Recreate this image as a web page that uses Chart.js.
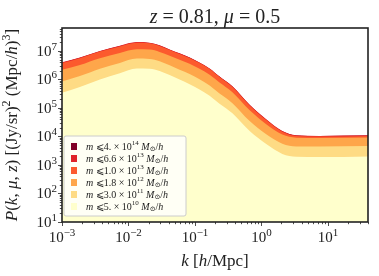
<!DOCTYPE html>
<html>
<head>
<meta charset="utf-8">
<script src="https://cdn.jsdelivr.net/npm/chart.js@4.4.1/dist/chart.umd.min.js"></script>
<style>
  html, body { margin: 0; padding: 0; background: #fff; }
</style>
</head>
<body>
<canvas id="c" width="379" height="276"></canvas>
<script>
// k in h/Mpc, P in (Jy/sr)^2 (Mpc/h)^3, one list per mass cut
const k = [0.001, 0.00186, 0.00372, 0.00741, 0.0133, 0.0208, 0.0294, 0.0416, 0.0587, 0.083,
  0.117, 0.166, 0.234, 0.366, 0.659, 1.18, 2.06, 3.33, 7.38, 40];
const p4e14 = [3.9e6, 5.75e6, 9.8e6, 1.49e7, 2.0e7, 1.91e7, 1.55e7, 1.11e7, 8.1e6, 5.85e6,
  3.9e6, 2.4e6, 1.26e6, 5.65e5, 1.3e5, 3.9e4, 1.52e4, 1.08e4, 1.03e4, 1.08e4];
const p66e13 = [3.99e6, 5.88e6, 9.98e6, 1.52e7, 2.05e7, 1.95e7, 1.59e7, 1.13e7, 8.25e6, 5.96e6,
  3.98e6, 2.45e6, 1.28e6, 5.78e5, 1.32e5, 3.99e4, 1.55e4, 1.1e4, 1.05e4, 1.1e4];
const p1e13 = [3.8e6, 5.6e6, 9.5e6, 1.45e7, 1.95e7, 1.86e7, 1.51e7, 1.08e7, 7.85e6, 5.68e6,
  3.79e6, 2.33e6, 1.22e6, 5.5e5, 1.26e5, 3.8e4, 1.48e4, 1.05e4, 1.0e4, 1.05e4];
const p18e12 = [2.19e6, 3.24e6, 5.6e6, 8.5e6, 1.15e7, 1.12e7, 9.3e6, 6.84e6, 4.95e6, 3.58e6,
  2.39e6, 1.47e6, 7.9e5, 3.6e5, 8.5e4, 2.7e4, 1.17e4, 9.1e3, 8.9e3, 9.3e3];
const p3e11 = [8.5e5, 1.32e6, 2.4e6, 3.8e6, 5.4e6, 5.25e6, 4.37e6, 3.13e6, 2.21e6, 1.56e6,
  1.02e6, 6.1e5, 3.2e5, 1.48e5, 3.55e4, 1.2e4, 5.6e3, 4.47e3, 4.47e3, 4.68e3];
const p5e10 = [3.4e5, 5.4e5, 1.0e6, 1.66e6, 2.45e6, 2.4e6, 2.0e6, 1.43e6, 9.9e5, 6.8e5,
  4.46e5, 2.68e5, 1.41e5, 6.5e4, 1.58e4, 5.4e3, 2.45e3, 1.95e3, 1.9e3, 2.0e3];

// legend order, top to bottom
const massMant = ['4.', '6.6', '1.0', '1.8', '3.0', '5.'];
const massExp = ['14', '13', '13', '12', '11', '10'];
const series = [p4e14, p66e13, p1e13, p18e12, p3e11, p5e10];
const colors = ['#800026', '#e0232a', '#fc5a2d', '#fea64a', '#fedb84', '#ffffcc'];

const xDecades = [-3, -2, -1, 0, 1];
const yDecades = [1, 2, 3, 4, 5, 6, 7];

const SERIF = '"Liberation Serif", "DejaVu Serif", serif';
const INK = '#222';

function fontFor(kind, size) {
  const small = kind === 'u' || kind === 'd';
  const s = small ? Math.round(size * 0.7) : size;
  const it = kind === 'i' ? 'italic ' : '';
  return it + s + 'px ' + SERIF;
}
function richWidth(ctx, parts, size) {
  let w = 0;
  parts.forEach(([t, kind]) => { ctx.font = fontFor(kind, size); w += ctx.measureText(t).width; });
  return w;
}
// parts: [text, kind] with kind r=roman i=italic u=superscript d=subscript
function drawRich(ctx, parts, x, y, size, align) {
  const w = richWidth(ctx, parts, size);
  let cx = align === 'center' ? x - w / 2 : align === 'right' ? x - w : x;
  ctx.textAlign = 'left';
  ctx.textBaseline = 'alphabetic';
  parts.forEach(([t, kind]) => {
    ctx.font = fontFor(kind, size);
    const dy = kind === 'u' ? -size * 0.42 : kind === 'd' ? size * 0.18 : 0;
    ctx.fillText(t, cx, y + dy);
    cx += ctx.measureText(t).width;
  });
}

const decor = {
  id: 'decor',
  afterDraw(chart) {
    const { ctx, chartArea: a, scales } = chart;
    const xs = scales.x, ys = scales.y;
    ctx.save();
    ctx.fillStyle = INK;
    ctx.strokeStyle = INK;

    // ticks, outward
    ctx.lineWidth = 0.8;
    ctx.beginPath();
    xDecades.concat([2]).forEach(d => {
      for (let m = 1; m <= 9; m++) {
        const v = m * Math.pow(10, d);
        if (v < xs.min || v > xs.max) continue;
        const px = Math.round(xs.getPixelForValue(v)) + 0.5;
        ctx.moveTo(px, a.bottom);
        ctx.lineTo(px, a.bottom + (m === 1 ? 4 : 2.2));
      }
    });
    yDecades.forEach(d => {
      for (let m = 1; m <= 9; m++) {
        const v = m * Math.pow(10, d);
        if (v < ys.min || v > ys.max) continue;
        const py = Math.round(ys.getPixelForValue(v)) + 0.5;
        ctx.moveTo(a.left, py);
        ctx.lineTo(a.left - (m === 1 ? 4 : 2.2), py);
      }
    });
    ctx.stroke();

    // frame
    ctx.lineWidth = 1.6;
    ctx.strokeRect(a.left, a.top, a.right - a.left, a.bottom - a.top);

    // tick labels
    xDecades.forEach(d => {
      const px = xs.getPixelForValue(Math.pow(10, d));
      drawRich(ctx, [['10', 'r'], [String(d).replace('-', '\u2212'), 'u']], px, a.bottom + 20, 15, 'center');
    });
    yDecades.forEach(d => {
      const py = ys.getPixelForValue(Math.pow(10, d));
      drawRich(ctx, [['10', 'r'], [String(d), 'u']], a.left - 5, py + 5, 15, 'right');
    });

    // title and axis labels
    drawRich(ctx, [['z', 'i'], [' = 0.81, ', 'r'], ['\u03bc', 'i'], [' = 0.5', 'r']],
      (a.left + a.right) / 2, 23, 20, 'center');
    drawRich(ctx, [['k', 'i'], [' [', 'r'], ['h', 'i'], ['/Mpc]', 'r']],
      (a.left + a.right) / 2, 266, 17, 'center');
    ctx.save();
    ctx.translate(17, (a.top + a.bottom) / 2);
    ctx.rotate(-Math.PI / 2);
    drawRich(ctx, [['P', 'i'], ['(', 'r'], ['k', 'i'], [', ', 'r'], ['\u03bc', 'i'], [', ', 'r'], ['z', 'i'],
      [') [(Jy/sr)', 'r'], ['2', 'u'], [' (Mpc/', 'r'], ['h', 'i'], [')', 'r'], ['3', 'u'], [']', 'r']],
      0, 0, 17, 'center');
    ctx.restore();

    // legend box
    const lx = 64, ly = 136, lw = 122, lh = 80;
    ctx.beginPath();
    ctx.roundRect(lx, ly, lw, lh, 2);
    ctx.fillStyle = 'rgba(255,255,255,0.8)';
    ctx.fill();
    ctx.lineWidth = 1;
    ctx.strokeStyle = '#cccccc';
    ctx.stroke();
    massMant.forEach((mant, i) => {
      const cy = 146 + i * 12;
      ctx.fillStyle = colors[i];
      ctx.fillRect(71, cy - 3, 6, 7);
      ctx.fillStyle = INK;
      drawRich(ctx, [['m', 'i'], [' \u2a7d', 'r'], [mant + ' \u00d7 10', 'r'], [massExp[i], 'u'],
        [' M', 'i'], ['\u2299', 'd'], ['/', 'r'], ['h', 'i']], 86, cy + 3.5, 10, 'left');
    });
    ctx.restore();
  }
};

const datasets = series.map((arr, i) => ({
  data: k.map((x, j) => ({ x, y: arr[j] })),
  backgroundColor: colors[i],
  borderWidth: 0,
  pointRadius: 0,
  fill: 'start',
  cubicInterpolationMode: 'monotone',
}));
// first dataset is drawn last: put the lowest curve first
datasets.reverse();

new Chart(document.getElementById('c'), {
  type: 'line',
  data: { datasets },
  options: {
    responsive: false,
    animation: false,
    devicePixelRatio: 1,
    layout: { padding: { left: 62, right: 11, top: 28, bottom: 54 } },
    plugins: { legend: { display: false }, tooltip: { enabled: false } },
    scales: {
      x: { type: 'logarithmic', min: 0.001, max: 40, display: false },
      y: { type: 'logarithmic', min: 10, max: 6.4e7, display: false },
    },
  },
  plugins: [decor],
});
</script>
</body>
</html>
